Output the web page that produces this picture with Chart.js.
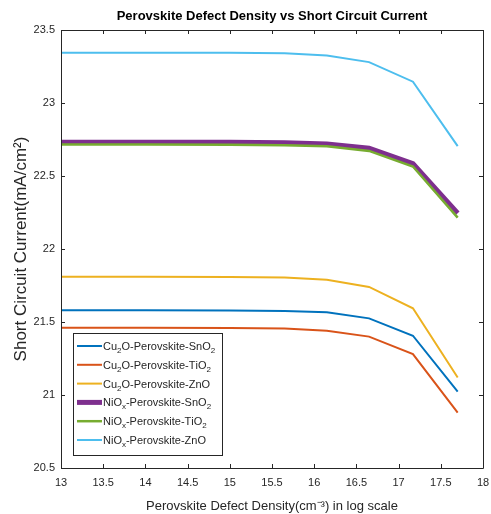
<!DOCTYPE html>
<html>
<head>
<meta charset="utf-8">
<script src="https://cdn.jsdelivr.net/npm/chart.js@4"></script>
<style>
  html, body { margin: 0; padding: 0; background: #fff; }
  #wrap { width: 491px; height: 514px; }
</style>
</head>
<body>
<div id="wrap"><canvas id="myChart" width="491" height="514"></canvas></div>
<script>
// defect density, log10(cm^-3)
const density = [13, 14, 15, 15.65, 16.15, 16.65, 17.17, 17.7];

const cu2oSnO2 = [21.58, 21.58, 21.579, 21.576, 21.566, 21.525, 21.406, 21.023];
const cu2oTiO2 = [21.46, 21.46, 21.459, 21.455, 21.44, 21.40, 21.28, 20.879];
const cu2oZnO  = [21.81, 21.81, 21.809, 21.804, 21.79, 21.74, 21.594, 21.12];
const nioxSnO2 = [22.732, 22.732, 22.731, 22.728, 22.72, 22.69, 22.585, 22.245];
const nioxTiO2 = [22.715, 22.715, 22.714, 22.711, 22.703, 22.672, 22.565, 22.215];
const nioxZnO  = [23.345, 23.345, 23.344, 23.34, 23.325, 23.28, 23.146, 22.705];

const seriesNames = [
    'Cu₂O-Perovskite-SnO₂',
    'Cu₂O-Perovskite-TiO₂',
    'Cu₂O-Perovskite-ZnO',
    'NiOₓ-Perovskite-SnO₂',
    'NiOₓ-Perovskite-TiO₂',
    'NiOₓ-Perovskite-ZnO'
];
const seriesValues = [cu2oSnO2, cu2oTiO2, cu2oZnO, nioxSnO2, nioxTiO2, nioxZnO];
const seriesColors = ['#0072BD', '#D95319', '#EDB120', '#7E2F8E', '#77AC30', '#4DBEEE'];
const seriesWidths = [2, 2, 2, 5, 2.5, 2];

const xTicks = [13, 13.5, 14, 14.5, 15, 15.5, 16, 16.5, 17, 17.5, 18];
const yTicks = [20.5, 21, 21.5, 22, 22.5, 23, 23.5];

const FONT = '"Liberation Sans", Arial, Helvetica, sans-serif';
const AXIS_COLOR = '#262626';

// box around the axes with inward tick marks on all four sides
const axesBox = {
    id: 'axesBox',
    afterDraw(chart) {
        const ctx = chart.ctx;
        const { left, right, top, bottom } = chart.chartArea;
        const xs = chart.scales.x, ys = chart.scales.y;
        ctx.save();
        ctx.strokeStyle = AXIS_COLOR;
        ctx.lineWidth = 1;
        ctx.beginPath();
        ctx.rect(Math.round(left) + 0.5, Math.round(top) + 0.5,
                 Math.round(right - left), Math.round(bottom - top));
        ctx.stroke();
        ctx.beginPath();
        xTicks.forEach(v => {
            const px = Math.round(xs.getPixelForValue(v)) + 0.5;
            ctx.moveTo(px, bottom); ctx.lineTo(px, bottom - 4);
            ctx.moveTo(px, top); ctx.lineTo(px, top + 4);
        });
        yTicks.forEach(v => {
            const py = Math.round(ys.getPixelForValue(v)) + 0.5;
            ctx.moveTo(left, py); ctx.lineTo(left + 4, py);
            ctx.moveTo(right, py); ctx.lineTo(right - 4, py);
        });
        ctx.stroke();
        ctx.restore();
    }
};

// legend in the lower left of the plot, subscripts drawn small and lowered
const subs = { '₂': '2', '₃': '3', 'ₓ': 'x' };
const boxLegend = {
    id: 'boxLegend',
    afterDatasetsDraw(chart) {
        const ctx = chart.ctx;
        const { left, bottom } = chart.chartArea;
        const bx = left + 12, bw = 149, bh = 122, by = bottom - 13 - bh;
        ctx.save();
        ctx.fillStyle = '#fff';
        ctx.fillRect(bx, by, bw, bh);
        ctx.strokeStyle = AXIS_COLOR;
        ctx.lineWidth = 1;
        ctx.strokeRect(Math.round(bx) + 0.5, Math.round(by) + 0.5, bw, bh);
        ctx.textBaseline = 'alphabetic';
        chart.data.datasets.forEach((ds, i) => {
            const cy = by + 13 + i * 18.8;
            ctx.strokeStyle = ds.borderColor;
            ctx.lineWidth = ds.borderWidth;
            ctx.beginPath();
            ctx.moveTo(bx + 4, cy);
            ctx.lineTo(bx + 29, cy);
            ctx.stroke();
            let tx = bx + 30;
            const base = cy + 4;
            ctx.fillStyle = AXIS_COLOR;
            for (const ch of ds.label) {
                if (subs[ch]) {
                    ctx.font = '8px ' + FONT;
                    ctx.fillText(subs[ch], tx, base + 3);
                    tx += ctx.measureText(subs[ch]).width;
                } else {
                    ctx.font = '11px ' + FONT;
                    ctx.fillText(ch, tx, base);
                    tx += ctx.measureText(ch).width;
                }
            }
        });
        ctx.restore();
    }
};

const ctx = document.getElementById('myChart').getContext('2d');
const myChart = new Chart(ctx, {
    type: 'line',
    data: {
        datasets: seriesValues.map((vals, i) => ({
            label: seriesNames[i],
            data: density.map((d, j) => ({ x: d, y: vals[j] })),
            borderColor: seriesColors[i],
            backgroundColor: seriesColors[i],
            borderWidth: seriesWidths[i],
            pointRadius: 0,
            tension: 0,
            fill: false,
            order: seriesValues.length - i
        }))
    },
    options: {
        responsive: false,
        animation: false,
        layout: { padding: { left: 0, right: 8, top: 0, bottom: 0 } },
        plugins: {
            legend: { display: false },
            tooltip: { enabled: false },
            title: {
                display: true,
                fullSize: false,
                text: 'Perovskite Defect Density vs Short Circuit Current',
                color: '#000',
                font: { family: FONT, size: 13, weight: 'bold' },
                padding: { top: 9, bottom: 5.4 }
            }
        },
        scales: {
            x: {
                type: 'linear',
                min: 13,
                max: 18,
                afterBuildTicks: s => { s.ticks = xTicks.map(v => ({ value: v })); },
                afterFit: s => {
                    s.height = 46;
                    s.paddingLeft = 0;
                    s.paddingRight = 0;
                },
                grid: { display: false, drawTicks: false },
                border: { display: false },
                ticks: {
                    color: AXIS_COLOR,
                    font: { family: FONT, size: 11 },
                    padding: 8,
                    maxRotation: 0,
                    autoSkip: false,
                    callback: v => String(v)
                },
                title: {
                    display: true,
                    text: 'Perovskite Defect Density(cm⁻³) in log scale',
                    color: AXIS_COLOR,
                    font: { family: FONT, size: 13 },
                    padding: { top: 1, bottom: 0 }
                }
            },
            y: {
                type: 'linear',
                min: 20.5,
                max: 23.5,
                afterBuildTicks: s => { s.ticks = yTicks.map(v => ({ value: v })); },
                afterFit: s => {
                    s.width = 61;
                    s.paddingTop = 0;
                    s.paddingBottom = 0;
                },
                grid: { display: false, drawTicks: false },
                border: { display: false },
                ticks: {
                    color: AXIS_COLOR,
                    font: { family: FONT, size: 11 },
                    padding: 6,
                    autoSkip: false,
                    callback: v => String(v)
                },
                title: {
                    display: true,
                    text: 'Short Circuit Current(mA/cm²)',
                    color: AXIS_COLOR,
                    font: { family: FONT, size: 17 },
                    padding: { top: 11, bottom: 0 }
                }
            }
        }
    },
    plugins: [axesBox, boxLegend]
});
</script>
</body>
</html>
